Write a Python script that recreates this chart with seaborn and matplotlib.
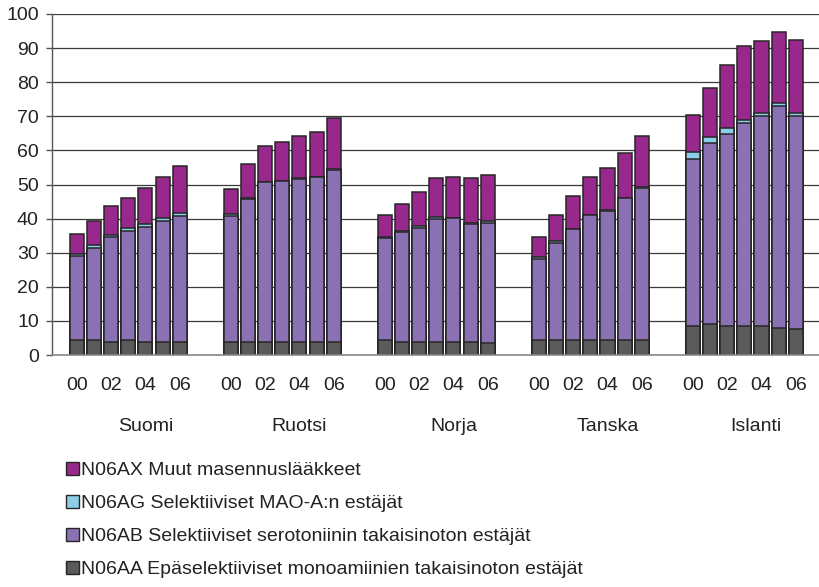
import numpy as np
import pandas as pd
import matplotlib
matplotlib.use("Agg")
import matplotlib.pyplot as plt
from matplotlib.patches import Patch
import seaborn as sns

countries = ["Suomi", "Ruotsi", "Norja", "Tanska", "Islanti"]
years = ["00", "01", "02", "03", "04", "05", "06"]
year_ticks = ["00", "02", "04", "06"]

# N06AA Epäselektiiviset monoamiinien takaisinoton estäjät
n06aa = [4.4, 4.4, 3.9, 4.4, 3.9, 3.9, 3.9,
         3.9, 3.9, 3.9, 3.9, 3.9, 3.9, 3.9,
         4.4, 3.9, 3.9, 3.9, 3.9, 3.9, 3.6,
         4.4, 4.4, 4.4, 4.4, 4.4, 4.4, 4.4,
         8.5, 9.0, 8.5, 8.5, 8.5, 8.0, 7.5]
# N06AB Selektiiviset serotoniinin takaisinoton estäjät
n06ab = [24.5, 27.1, 30.6, 31.9, 33.7, 35.5, 36.8,
         37.0, 41.8, 46.7, 47.0, 47.7, 48.3, 50.4,
         29.8, 32.2, 33.4, 36.1, 36.2, 34.4, 35.2,
         23.8, 28.5, 32.5, 36.7, 37.8, 41.6, 44.7,
         49.1, 53.1, 56.2, 59.6, 61.5, 64.9, 62.5]
# N06AG Selektiiviset MAO-A:n estäjät
n06ag = [0.7, 0.8, 0.8, 0.8, 0.8, 0.8, 0.8,
         0.4, 0.4, 0.1, 0.1, 0.4, 0.1, 0.1,
         0.4, 0.4, 0.4, 0.4, 0.1, 0.4, 0.4,
         0.4, 0.4, 0.1, 0.1, 0.4, 0.1, 0.1,
         2.0, 1.7, 1.8, 0.9, 0.9, 0.9, 0.9]
# N06AX Muut masennuslääkkeet
n06ax = [5.8, 7.1, 8.5, 9.0, 10.7, 12.1, 14.0,
         7.4, 9.8, 10.5, 11.5, 12.2, 13.2, 15.2,
         6.6, 7.8, 10.1, 11.4, 12.1, 13.1, 13.5,
         5.9, 7.9, 9.6, 11.1, 12.3, 13.2, 15.0,
         10.8, 14.6, 18.5, 21.7, 21.2, 21.0, 21.6]

labels = {
    "AX": "N06AX Muut masennuslääkkeet",
    "AG": "N06AG Selektiiviset MAO-A:n estäjät",
    "AB": "N06AB Selektiiviset serotoniinin takaisinoton estäjät",
    "AA": "N06AA Epäselektiiviset monoamiinien takaisinoton estäjät",
}
colors = {"AX": "#98288c", "AG": "#8ccde8", "AB": "#8a71b4", "AA": "#5a5a5a"}
edge = "#262626"

group_step = len(years) + 2
rows = []
for gi, c in enumerate(countries):
    for yi, y in enumerate(years):
        k = gi * len(years) + yi
        rows.append(dict(country=c, year=y, pos=gi * group_step + yi,
                         AA=n06aa[k], AB=n06ab[k], AG=n06ag[k], AX=n06ax[k]))
df = pd.DataFrame(rows)
df["c_AA"] = df["AA"]
df["c_AB"] = df["c_AA"] + df["AB"]
df["c_AG"] = df["c_AB"] + df["AG"]
df["c_AX"] = df["c_AG"] + df["AX"]

sns.set_theme(style="white")
plt.rcParams["font.family"] = ["Liberation Sans", "DejaVu Sans"]
FS = 14

fig = plt.figure(figsize=(8.19, 5.87), dpi=100)
ax = fig.add_axes([52 / 819, 1 - 355 / 587, 1 - 52 / 819, (355 - 14) / 587])

for key in ["AX", "AG", "AB", "AA"]:
    sns.barplot(data=df, x="pos", y="c_" + key, native_scale=True, width=0.82,
                color=colors[key], edgecolor=edge, linewidth=1.1,
                saturation=1, errorbar=None, ax=ax, zorder=3)

ax.set_ylim(0, 100)
ax.set_xlim(-1.46, 43.36)
ax.set_yticks(np.arange(0, 101, 10))
ax.yaxis.grid(True, color="#3a3a3a", linewidth=0.9, zorder=0)
ax.set_axisbelow(True)
for s in ["top", "right"]:
    ax.spines[s].set_visible(False)
ax.spines["left"].set_color("#555555")
ax.spines["bottom"].set_color("#888888")
ax.spines["left"].set_linewidth(1.0)
ax.spines["bottom"].set_linewidth(1.2)
ax.spines["left"].set_zorder(5)
ax.spines["bottom"].set_zorder(5)

tick_pos = []
tick_lab = []
for gi in range(len(countries)):
    for yi, y in enumerate(years):
        if y in year_ticks:
            tick_pos.append(gi * group_step + yi)
            tick_lab.append(y)
ax.set_xticks(tick_pos)
ax.set_xticklabels(tick_lab, fontsize=FS, color="#222222")
ax.tick_params(axis="x", length=0, pad=16)
ax.tick_params(axis="y", left=True, length=4.5, width=1, color="#555555",
               pad=5, labelsize=FS, labelcolor="#222222")
ax.set_xlabel("")
ax.set_ylabel("")

for gi, c in enumerate(countries):
    center = gi * group_step + (group_step - 1) / 2
    if gi == len(countries) - 1:
        center -= 0.35
    ax.text(center, -0.211, c, transform=ax.get_xaxis_transform(),
            ha="center", va="center", fontsize=FS, color="#222222",
            clip_on=False)

handles = [Patch(facecolor=colors[k], edgecolor=edge, linewidth=1.0, label=labels[k])
           for k in ["AX", "AG", "AB", "AA"]]
fig.legend(handles=handles, loc="upper left",
           bbox_to_anchor=(66 / 819, 1 - 462 / 587), frameon=False,
           fontsize=FS, handlelength=0.65, handleheight=0.65,
           handletextpad=0.12, labelspacing=0.8, borderpad=0,
           borderaxespad=0, labelcolor="#222222")

fig.savefig("out.png", dpi=100)
